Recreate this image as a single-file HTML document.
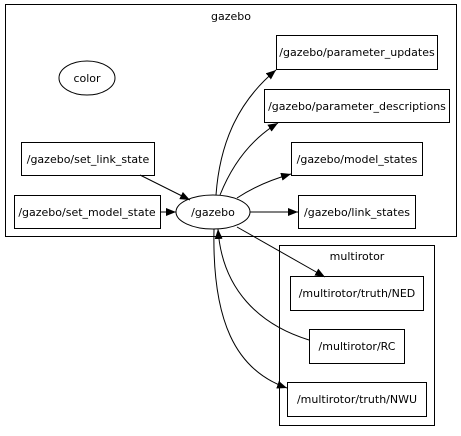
<!DOCTYPE html>
<html><head><style>
html,body{margin:0;padding:0;background:#fff;}
svg{display:block;}
text{font-family:"DejaVu Sans","Liberation Sans",sans-serif;font-size:11px;fill:#000;}
</style></head><body>
<svg width="461" height="436" viewBox="0 0 461 436" xmlns="http://www.w3.org/2000/svg">
<defs>
<marker id="a" markerWidth="10" markerHeight="8" refX="10" refY="4" orient="auto" markerUnits="userSpaceOnUse">
<path d="M0,0 L10,4 L0,8 z" fill="#000"/></marker>
</defs>
<g fill="none" stroke="#000" stroke-width="1">
<rect x="5.5" y="4.5" width="451" height="232"/>
<rect x="279.5" y="245.5" width="155" height="180"/>
<rect x="276.5" y="35.5" width="161" height="34"/>
<rect x="264.5" y="89.5" width="185" height="33"/>
<rect x="21.5" y="142.5" width="133" height="33"/>
<rect x="291.5" y="142.5" width="131" height="33"/>
<rect x="14.5" y="195.5" width="146" height="33"/>
<rect x="298.5" y="195.5" width="117" height="33"/>
<rect x="290.5" y="276.5" width="133" height="34"/>
<rect x="309.5" y="329.5" width="95" height="34"/>
<rect x="287.5" y="382.5" width="139" height="34"/>
<ellipse cx="87" cy="78" rx="28" ry="17"/>
<ellipse cx="213" cy="212" rx="37" ry="17"/>
<path d="M216,195 C220,140 240,100 276,70" marker-end="url(#a)"/>
<path d="M220,195 C232,165 250,140 278,123" marker-end="url(#a)"/>
<path d="M237,198 C252,188 270,180 291,174" marker-end="url(#a)"/>
<path d="M250,212 L298,212" marker-end="url(#a)"/>
<path d="M140,175 L190,200" marker-end="url(#a)"/>
<path d="M160,212 L176,212" marker-end="url(#a)"/>
<path d="M237,227 L325,277" marker-end="url(#a)"/>
<path d="M309,340 C260,325 222,290 218,229" marker-end="url(#a)"/>
<path d="M214,229 C212,320 235,370 287,388" marker-end="url(#a)"/>
</g>
<g text-anchor="middle">
<text x="231" y="20">gazebo</text>
<text x="357" y="260">multirotor</text>
<text x="357" y="56">/gazebo/parameter_updates</text>
<text x="357" y="110">/gazebo/parameter_descriptions</text>
<text x="88" y="163">/gazebo/set_link_state</text>
<text x="357" y="163">/gazebo/model_states</text>
<text x="87" y="216">/gazebo/set_model_state</text>
<text x="357" y="216">/gazebo/link_states</text>
<text x="357" y="297">/multirotor/truth/NED</text>
<text x="357" y="350">/multirotor/RC</text>
<text x="357" y="403">/multirotor/truth/NWU</text>
<text x="87" y="82">color</text>
<text x="213" y="216">/gazebo</text>
</g>
</svg>
</body></html>
